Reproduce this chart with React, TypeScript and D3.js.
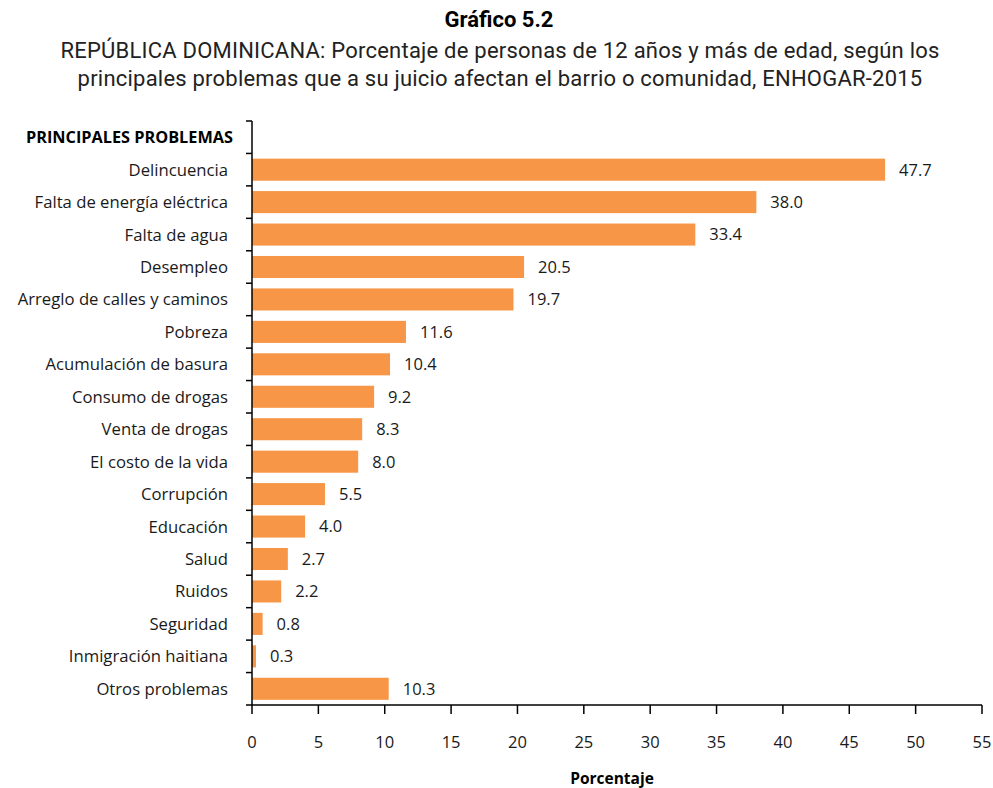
import React from "react";
import * as d3 from "d3";

const categories = [
  "Delincuencia",
  "Falta de energía eléctrica",
  "Falta de agua",
  "Desempleo",
  "Arreglo de calles y caminos",
  "Pobreza",
  "Acumulación de basura",
  "Consumo de drogas",
  "Venta de drogas",
  "El costo de la vida",
  "Corrupción",
  "Educación",
  "Salud",
  "Ruidos",
  "Seguridad",
  "Inmigración haitiana",
  "Otros problemas",
];
const values = [47.7, 38.0, 33.4, 20.5, 19.7, 11.6, 10.4, 9.2, 8.3, 8.0, 5.5, 4.0, 2.7, 2.2, 0.8, 0.3, 10.3];
const xTicks = [0, 5, 10, 15, 20, 25, 30, 35, 40, 45, 50, 55];
const HEADER = "PRINCIPALES PROBLEMAS";

const W = 993;
const H = 788;
const left = 252;
const right = 982;
const top = 121;
const bottom = 705;
const font = "'Open Sans', Lato, sans-serif";

export default function App() {
  const x = d3.scaleLinear().domain([0, 55]).range([left, right]);
  const y = d3
    .scaleBand<string>()
    .domain([HEADER, ...categories])
    .range([top, bottom])
    .paddingInner(0.32)
    .paddingOuter(0.16);
  const step = y.step();
  const boundaries = d3.range(0, categories.length + 2).map((i) => top + i * step);

  return (
    <svg width={W} height={H} style={{ position: "absolute", left: 0, top: 0, background: "#fff" }}>
      <rect width={W} height={H} fill="#fff" />
      <text x={499} y={27} textAnchor="middle" fontFamily="Roboto, sans-serif" fontWeight="bold" fontSize={22} fill="#000">
        Gráfico 5.2
      </text>
      <text x={500} y={58} textAnchor="middle" fontFamily="Roboto, sans-serif" fontSize={22} letterSpacing={0.22} fill="#222">
        REPÚBLICA DOMINICANA: Porcentaje de personas de 12 años y más de edad, según los
      </text>
      <text x={500} y={86} textAnchor="middle" fontFamily="Roboto, sans-serif" fontSize={22} letterSpacing={0.22} fill="#222">
        principales problemas que a su juicio afectan el barrio o comunidad, ENHOGAR-2015
      </text>

      {categories.map((c, i) => (
        <rect key={c} x={x(0)} y={y(c)!} width={x(values[i]) - x(0)} height={y.bandwidth()} fill="#F79646" />
      ))}
      {categories.map((c, i) => (
        <text key={c + "v"} x={x(values[i]) + 14} y={y(c)! + y.bandwidth() / 2} dy="0.36em" fontFamily={font} fontSize={16.5} fill="#1a1a1a">
          {values[i].toFixed(1)}
        </text>
      ))}
      {categories.map((c) => (
        <text key={c + "l"} x={228} y={y(c)! + y.bandwidth() / 2} dy="0.36em" textAnchor="end" fontFamily={font} fontSize={16.7} fill="#1a1a1a">
          {c}
        </text>
      ))}
      <text x={233} y={y(HEADER)! + y.bandwidth() / 2} dy="0.36em" textAnchor="end" fontFamily={font} fontWeight="bold" fontSize={16.3} fill="#000">
        {HEADER}
      </text>

      {/* y axis */}
      <line x1={left} x2={left} y1={top} y2={bottom} stroke="#000" strokeWidth={1.5} />
      {boundaries.map((b, i) => (
        <line key={"yt" + i} x1={left - 6} x2={left} y1={b} y2={b} stroke="#000" strokeWidth={1.5} />
      ))}
      {/* x axis */}
      <line x1={left} x2={right} y1={bottom} y2={bottom} stroke="#000" strokeWidth={1.5} />
      {xTicks.map((t) => (
        <g key={"xt" + t}>
          <line x1={x(t)} x2={x(t)} y1={bottom} y2={bottom + 9} stroke="#000" strokeWidth={1.5} />
          <text x={x(t)} y={742} dy="0.35em" textAnchor="middle" fontFamily={font} fontSize={16.5} fill="#1a1a1a">
            {t}
          </text>
        </g>
      ))}
      <text x={(left + right) / 2 - 5} y={784} textAnchor="middle" fontFamily={font} fontWeight="bold" fontSize={15.5} fill="#000">
        Porcentaje
      </text>
    </svg>
  );
}
